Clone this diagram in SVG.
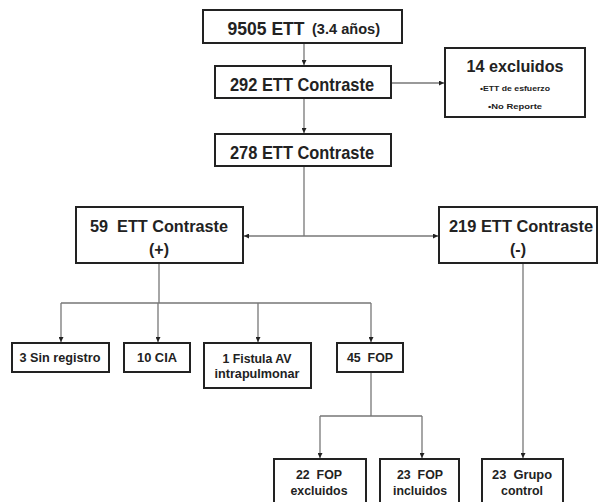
<svg xmlns="http://www.w3.org/2000/svg" width="598" height="502" viewBox="0 0 598 502">
<defs>
<marker id="ah" viewBox="0 0 10 10" refX="10" refY="5" markerWidth="5" markerHeight="5" markerUnits="userSpaceOnUse" orient="auto">
<path d="M0,0 L10,5 L0,10 z" fill="#222"/>
</marker>
<style>
.box{fill:#fff;stroke:#222;stroke-width:2}
.t{font-family:"Liberation Sans",Arial,sans-serif;font-weight:bold;fill:#222;text-anchor:middle;white-space:pre}
.c{fill:none;stroke:#777;stroke-width:1.3}
.a{marker-end:url(#ah)}
</style>
</defs>
<rect width="598" height="502" fill="#fff"/>
<g id="connectors">
<path class="c a" d="M304,43 V65"/>
<path class="c a" d="M304,98 V133"/>
<path class="c a" d="M391,83 H444"/>
<path class="c" d="M304,166 V236"/>
<path class="c a" d="M304,236 H244"/>
<path class="c a" d="M304,236 H438"/>
<path class="c" d="M159,263 V303 M61,303 H371"/>
<path class="c a" d="M61,303 V342"/>
<path class="c a" d="M158,303 V342"/>
<path class="c a" d="M258,303 V342"/>
<path class="c a" d="M371,303 V342"/>
<path class="c" d="M371,372 V416 M320,416 H422"/>
<path class="c a" d="M320,416 V458"/>
<path class="c a" d="M422,416 V458"/>
<path class="c a" d="M523,263 V458"/>
</g>
<g id="n9505">
<rect class="box" x="203" y="10" width="199" height="33"/>
<text class="t" x="266" y="35" font-size="18" textLength="77" lengthAdjust="spacingAndGlyphs">9505 ETT</text>
<text class="t" x="346" y="34" font-size="14" textLength="68" lengthAdjust="spacingAndGlyphs">(3.4 años)</text>
</g>
<g id="n292">
<rect class="box" x="215" y="66" width="176" height="32"/>
<text class="t" x="302" y="91" font-size="19" textLength="144" lengthAdjust="spacingAndGlyphs">292 ETT Contraste</text>
</g>
<g id="excl">
<rect class="box" x="445" y="48" width="140" height="69"/>
<text class="t" x="515" y="72" font-size="16" textLength="97" lengthAdjust="spacingAndGlyphs">14 excluidos</text>
<text class="t" x="515" y="91" font-size="8" font-weight="normal" textLength="70" lengthAdjust="spacingAndGlyphs">•ETT de esfuerzo</text>
<text class="t" x="515" y="109" font-size="8" font-weight="normal" textLength="54" lengthAdjust="spacingAndGlyphs">•No Reporte</text>
</g>
<g id="n278">
<rect class="box" x="215" y="134" width="176" height="32"/>
<text class="t" x="302" y="159" font-size="19" textLength="144" lengthAdjust="spacingAndGlyphs">278 ETT Contraste</text>
</g>
<g id="pos">
<rect class="box" x="76" y="207" width="167" height="56"/>
<text class="t" x="159" y="232" font-size="17" textLength="138" lengthAdjust="spacingAndGlyphs">59  ETT Contraste</text>
<text class="t" x="159" y="255" font-size="16">(+)</text>
</g>
<g id="neg">
<rect class="box" x="439" y="207" width="158" height="56"/>
<text class="t" x="521" y="232" font-size="17" textLength="144" lengthAdjust="spacingAndGlyphs">219 ETT Contraste</text>
<text class="t" x="518" y="255" font-size="16">(-)</text>
</g>
<g id="sinreg">
<rect class="box" x="12" y="343" width="97" height="29"/>
<text class="t" x="60" y="362" font-size="13" textLength="81" lengthAdjust="spacingAndGlyphs">3 Sin registro</text>
</g>
<g id="cia">
<rect class="box" x="124" y="343" width="66" height="29"/>
<text class="t" x="157" y="362" font-size="13" textLength="40" lengthAdjust="spacingAndGlyphs">10 CIA</text>
</g>
<g id="fistula">
<rect class="box" x="204" y="343" width="107" height="45"/>
<text class="t" x="257" y="363" font-size="13" textLength="69" lengthAdjust="spacingAndGlyphs">1 Fistula AV</text>
<text class="t" x="257" y="378" font-size="13" textLength="85" lengthAdjust="spacingAndGlyphs">intrapulmonar</text>
</g>
<g id="fop45">
<rect class="box" x="337" y="343" width="66" height="29"/>
<text class="t" x="370" y="362" font-size="13" textLength="46" lengthAdjust="spacingAndGlyphs">45  FOP</text>
</g>
<g id="fopexc">
<rect class="box" x="274" y="459" width="92" height="50"/>
<text class="t" x="319" y="479" font-size="13" textLength="46" lengthAdjust="spacingAndGlyphs">22  FOP</text>
<text class="t" x="319" y="495" font-size="13" textLength="57" lengthAdjust="spacingAndGlyphs">excluidos</text>
</g>
<g id="fopinc">
<rect class="box" x="380" y="459" width="79" height="50"/>
<text class="t" x="420" y="479" font-size="13" textLength="46" lengthAdjust="spacingAndGlyphs">23  FOP</text>
<text class="t" x="420" y="495" font-size="13" textLength="54" lengthAdjust="spacingAndGlyphs">incluidos</text>
</g>
<g id="control">
<rect class="box" x="482" y="459" width="81" height="50"/>
<text class="t" x="522" y="479" font-size="13" textLength="60" lengthAdjust="spacingAndGlyphs">23  Grupo</text>
<text class="t" x="522" y="495" font-size="13" textLength="42" lengthAdjust="spacingAndGlyphs">control</text>
</g>
</svg>
